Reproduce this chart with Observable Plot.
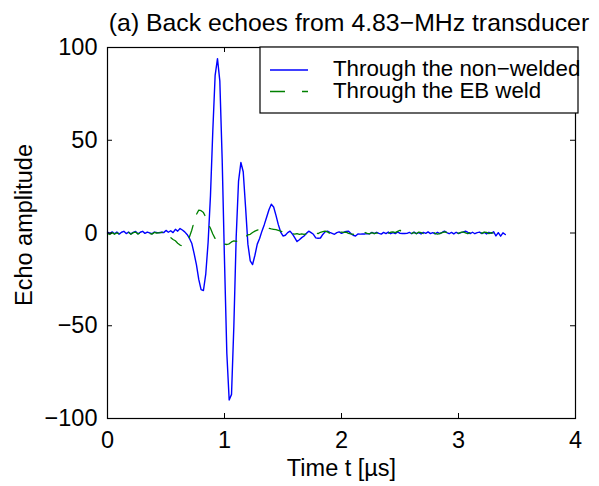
<!DOCTYPE html>
<html>
<head>
<meta charset="utf-8">
<script src="https://cdn.jsdelivr.net/npm/d3@7"></script>
<script src="https://cdn.jsdelivr.net/npm/@observablehq/plot@0.6"></script>
<style>
  body { margin: 0; background: white; }
  #wrap { width: 599px; height: 486px; font-family: "Liberation Sans", Arial, Helvetica, sans-serif; color: black; }
  #title { height: 36px; box-sizing: border-box; padding-top: 9.5px; padding-left: 99px; line-height: 26px; font-size: 24.8px; text-align: center; white-space: nowrap; }
</style>
</head>
<body>
<div id="wrap">
  <div id="title">(a) Back echoes from 4.83&#8722;MHz transducer</div>
  <div id="chart"></div>
</div>
<script>
// Sampling interval of both echo records (µs)
const dt = 0.02;

// Echo through the non-welded region (samples at 0, 0.02, ... 3.40 µs)
const nonWelded = [
  0.5,-0.3,0.6,-0.4,0.5,-0.6,0.4,0.9,-0.3,0.5,
  -0.5,0.3,0.8,-0.4,0.4,0.9,-0.2,0.5,0.1,-0.4,
  0.5,0.3,0.2,0.4,0.2,1.4,0.4,1.2,0.2,2.0,
  1.0,2.4,1.6,0.6,-0.8,-2.8,-5.5,-11,-17,-25,
  -30.5,-31,-22,-5,20,55,85,94,82,40,
  -15,-65,-90,-87,-50,-2,28,38,33,14,
  -6,-15,-17,-12,-6,-3,1,4.5,8.5,12.5,
  15.5,14,9.5,4.5,0.5,-1.6,-1.2,0.2,1.0,-0.5,
  -2.5,-4.6,-3.6,-2.5,-1.6,-0.2,1.0,0.2,-0.7,-2.6,
  -2.8,-2.7,-0.8,0.6,1.0,0.3,-0.2,-0.7,0.2,0.6,
  -0.2,0.4,0.9,1.0,-0.3,-1.2,-1.6,-0.5,-0.6,-0.5,
  -0.5,-0.4,-0.5,0.3,-0.3,0.4,-0.2,-0.6,0.3,-0.3,
  0.5,-0.4,0.2,-0.3,0.6,-0.2,-0.3,-0.3,-0.2,0.3,
  -0.4,0.5,-0.3,0.2,-0.5,0.3,-0.2,0.6,-0.3,0.2,
  -0.5,0.4,-0.3,0.3,1.0,0.2,-0.4,0.3,-0.5,0.4,
  -0.3,0.2,0.5,1.0,0.3,-0.3,0.4,-0.4,0.2,0.5,
  -0.3,0.3,-0.5,0.4,-0.2,0.7,-1.6,0.2,-1.7,0.1,
  -0.8
];

// Echo through the EB weld (samples at 0, 0.02, ... 3.30 µs)
const ebWeld = [
  -0.4,-0.8,0.2,-0.7,0.1,-0.6,0.0,0.6,-0.5,0.3,
  -0.7,0.2,0.5,-0.6,0.1,0.6,-0.4,0.2,-0.2,-0.6,
  0.3,0.0,0.1,0.3,0.6,1.0,-0.5,-2.5,-3.5,-4.2,
  -5.5,-6.5,-7.0,-6.0,-4.5,-2.2,1.5,6.0,10.0,12.3,
  12.0,11.0,8.5,5.0,2.5,-0.5,-3.0,-4.5,-5.5,-6.0,
  -6.0,-6.2,-5.8,-4.8,-4.3,-4.5,-4.0,-4.3,-3.0,-2.0,
  -1.0,-0.7,0.3,1.0,1.5,2.2,2.8,3.0,2.8,2.5,
  2.2,2.0,1.8,1.4,1.0,0.5,0.0,-0.3,-0.5,-0.4,
  -0.6,-0.3,-0.7,-0.5,-0.8,-0.4,-0.6,-0.3,-0.5,0.2,
  -0.3,0.4,0.7,1.0,0.6,-0.2,-0.6,-0.7,-0.3,0.2,
  0.5,0.3,0.5,-0.2,-0.5,-0.7,-0.5,-0.3,0.2,0.5,
  0.3,-0.2,-0.4,0.2,-0.3,0.1,-0.3,0.3,0.5,0.1,
  -0.2,0.4,0.6,0.2,0.9,1.5,0.2,-0.3,-0.6,-0.4,
  -0.2,0.3,-0.4,0.5,0.2,-0.3,0.4,0.0,0.3,0.6,
  -0.2,-0.6,-0.3,0.2,0.6,0.3,-0.3,-0.5,0.2,0.4,
  -0.2,0.3,0.6,0.1,-0.4,0.3,0.5,-0.3,0.1,0.4,
  -0.2,0.5,0.3,-0.3,0.2,-0.1
];

const xTicks = [0, 1, 2, 3, 4];
const yTicks = [-100, -50, 0, 50, 100];
const seriesNames = ["Through the non\u2212welded", "Through the EB weld"];
const xLabel = "Time t [\u00b5s]";
const yLabel = "Echo amplitude";

const blueData = nonWelded.map((v, i) => ({t: i * dt, v}));
const greenData = ebWeld.map((v, i) => ({t: i * dt, v}));

const W = 599, H = 450;
const mL = 107, mR = 24, mT = 11, mB = 68;
const innerW = W - mL - mR, innerH = H - mT - mB;
const tick = 5;
const FONT = "'Liberation Sans', Arial, Helvetica, sans-serif";
const fmt = d => d < 0 ? "\u2212" + (-d) : String(d);

const chart = Plot.plot({
  width: W, height: H,
  marginLeft: mL, marginRight: mR, marginTop: mT, marginBottom: mB,
  style: {fontFamily: FONT, fontSize: "23.5px", color: "black", background: "white", overflow: "visible"},
  x: {domain: [0, 4]},
  y: {domain: [-100, 100]},
  marks: [
    Plot.line(blueData, {x: "t", y: "v", stroke: "#0000ff", strokeWidth: 1.4}),
    Plot.line(greenData, {x: "t", y: "v", stroke: "#008000", strokeWidth: 1.3, strokeDasharray: "13,12"}),
    Plot.frame({stroke: "black", strokeWidth: 1.2}),
    Plot.tickX(xTicks, {x: d => d, insetTop: innerH - tick, stroke: "black", strokeWidth: 1}),
    Plot.tickX(xTicks, {x: d => d, insetBottom: innerH - tick, stroke: "black", strokeWidth: 1}),
    Plot.tickY(yTicks, {y: d => d, insetRight: innerW - tick, stroke: "black", strokeWidth: 1}),
    Plot.tickY(yTicks, {y: d => d, insetLeft: innerW - tick, stroke: "black", strokeWidth: 1}),
    Plot.axisX({ticks: xTicks, anchor: "bottom", tickSize: 0, tickPadding: 13, fontSize: 23.5, tickFormat: fmt, label: null}),
    Plot.axisY({ticks: yTicks, anchor: "left", tickSize: 0, tickPadding: 10, fontSize: 23.5, tickFormat: fmt, label: null}),
    Plot.text([xLabel], {frameAnchor: "bottom", dy: 57, lineAnchor: "bottom", fontSize: 23.5, fill: "black"})
  ]
});

document.getElementById("chart").appendChild(chart);

const svg = d3.select(chart);

// Y axis title (rotated)
svg.append("text")
  .attr("transform", `translate(32, ${225 - 36}) rotate(-90)`)
  .attr("text-anchor", "middle")
  .attr("font-family", FONT).attr("font-size", 23.5).attr("fill", "black")
  .text(yLabel);

// Legend box (MATLAB style, upper right)
const lg = svg.append("g").attr("font-family", FONT).attr("font-size", 22.3).attr("text-anchor", "start");
lg.append("rect").attr("x", 260).attr("y", 11).attr("width", 318).attr("height", 66)
  .attr("fill", "white").attr("stroke", "black").attr("stroke-width", 1.2);
const legendStyles = [
  {stroke: "#0000ff", dash: null, ly: 34, ty: 39.5},
  {stroke: "#008000", dash: "15,17", ly: 55.5, ty: 62}
];
seriesNames.forEach((name, i) => {
  const s = legendStyles[i];
  const ln = lg.append("line").attr("x1", 270).attr("x2", 308).attr("y1", s.ly).attr("y2", s.ly)
    .attr("stroke", s.stroke).attr("stroke-width", 1.3);
  if (s.dash) ln.attr("stroke-dasharray", s.dash);
  lg.append("text").attr("x", 333).attr("y", s.ty).attr("fill", "black").attr("text-anchor", "start").text(name);
});
</script>
</body>
</html>
